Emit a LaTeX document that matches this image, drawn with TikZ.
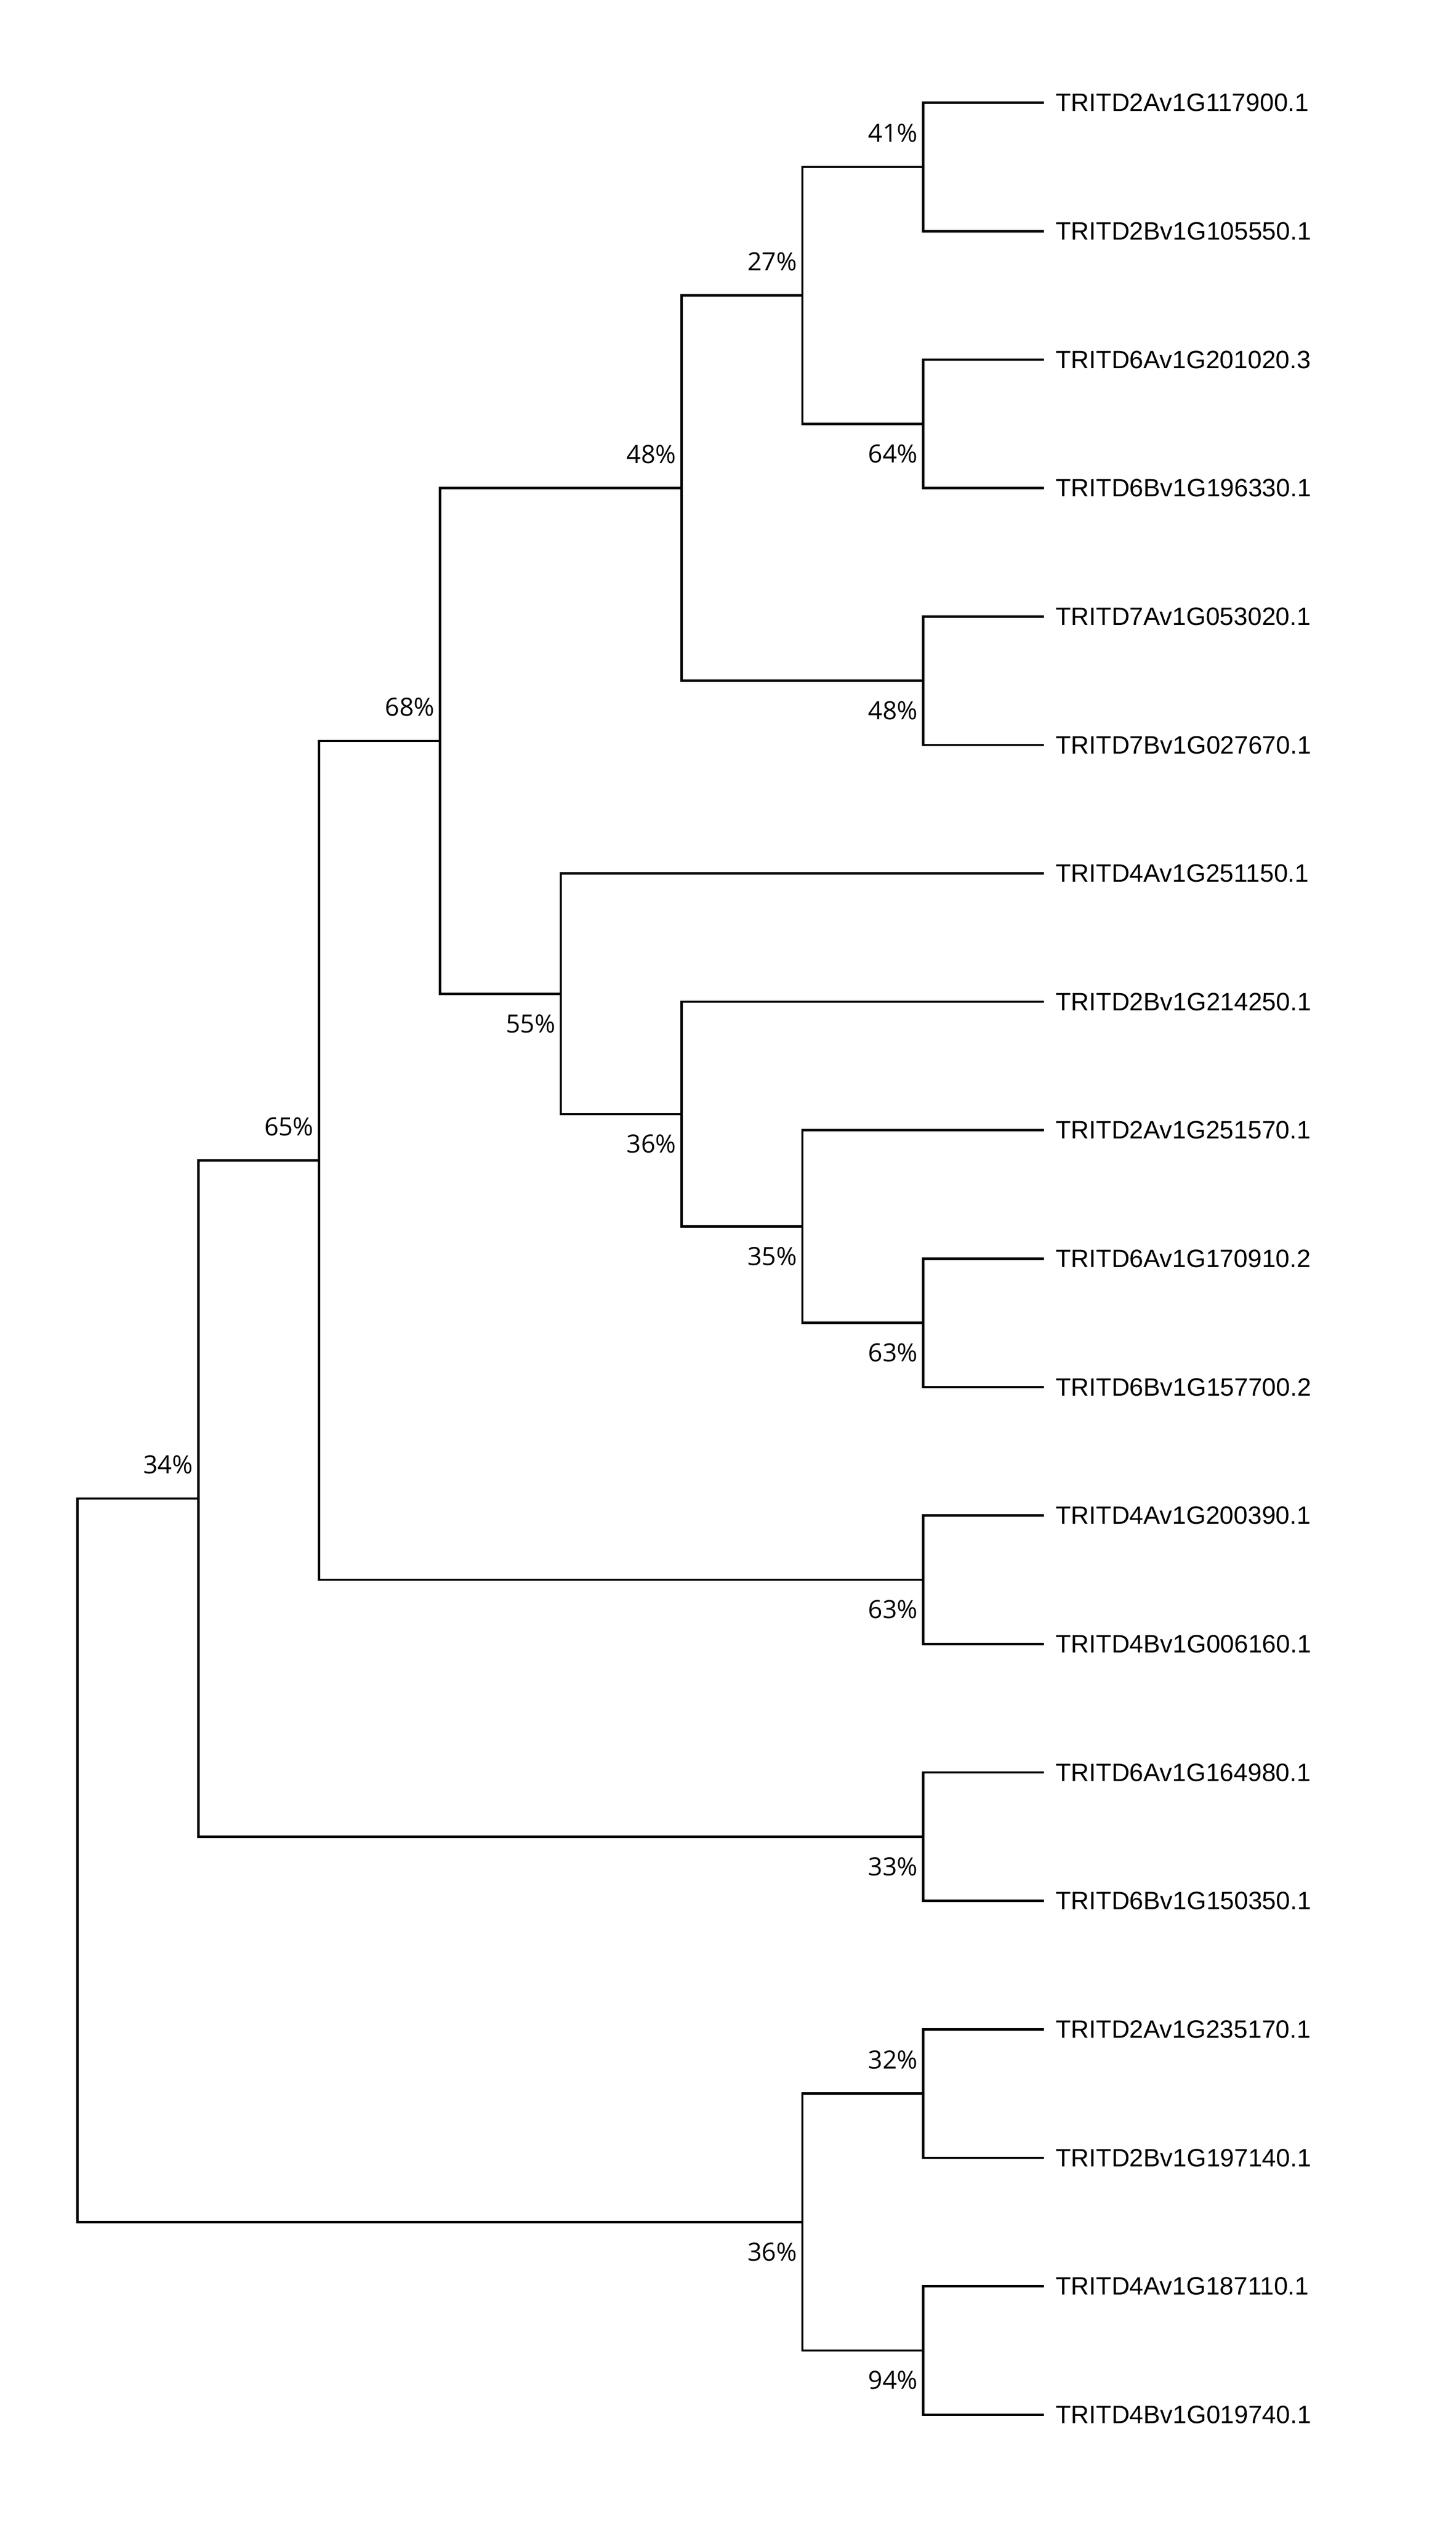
\documentclass[tikz,border=0pt]{standalone}
\usepackage{fontspec}
\setmainfont{Liberation Sans}
\newfontfamily\bsfont{Open Sans}
\usepackage{tikz}
\tikzstyle{branch} = [
    draw=black,
    line width=0.05cm,
    line join=miter
]
\tikzstyle{leaf} = [
    anchor=west,
    inner xsep=0.245cm,
    inner ysep=0pt,
    font=\fontsize{15.3pt}{18pt}\selectfont
]
\tikzstyle{bsabove} = [
    anchor=base east,
    inner sep=0pt,
    xshift=-0.11cm,
    yshift=0.53cm,
    font=\bsfont\fontsize{15.3pt}{18pt}\selectfont
]
\tikzstyle{bsbelow} = [
    bsabove,
    yshift=-1.36cm
]

\begin{document}
\begin{tikzpicture}[x=2.587cm, y=-2.75cm]
    \useasboundingbox[fill=white] (0,0) rectangle (12.049,19.636);
    \begin{scope}[shift={(0.6417,0.8)}]
        % leaves
        \foreach \gene [count=\i from 0] in {TRITD2Av1G117900.1, TRITD2Bv1G105550.1,
            TRITD6Av1G201020.3, TRITD6Bv1G196330.1, TRITD7Av1G053020.1, TRITD7Bv1G027670.1,
            TRITD4Av1G251150.1, TRITD2Bv1G214250.1, TRITD2Av1G251570.1, TRITD6Av1G170910.2,
            TRITD6Bv1G157700.2, TRITD4Av1G200390.1, TRITD4Bv1G006160.1, TRITD6Av1G164980.1,
            TRITD6Bv1G150350.1, TRITD2Av1G235170.1, TRITD2Bv1G197140.1, TRITD4Av1G187110.1,
            TRITD4Bv1G019740.1}
            \node[leaf] (l\i) at (8,\i) {\gene};

        % internal nodes
        \coordinate (c1) at (7,0.5);
        \coordinate (c2) at (7,2.5);
        \coordinate (c3) at (6,1.5);
        \coordinate (c4) at (7,4.5);
        \coordinate (c5) at (5,3);
        \coordinate (c6) at (7,9.5);
        \coordinate (c7) at (6,8.75);
        \coordinate (c8) at (5,7.875);
        \coordinate (c9) at (4,6.9375);
        \coordinate (c10) at (3,4.96875);
        \coordinate (c11) at (7,11.5);
        \coordinate (c12) at (2,8.234375);
        \coordinate (c13) at (7,13.5);
        \coordinate (c14) at (1,10.8671875);
        \coordinate (c15) at (7,15.5);
        \coordinate (c16) at (7,17.5);
        \coordinate (c17) at (6,16.5);
        \coordinate (root) at (0,13.68359375);

        % branches
        \draw[branch] (c1) |- (l0.west);
        \draw[branch] (c1) |- (l1.west);
        \draw[branch] (c2) |- (l2.west);
        \draw[branch] (c2) |- (l3.west);
        \draw[branch] (c3) |- (c1);
        \draw[branch] (c3) |- (c2);
        \draw[branch] (c4) |- (l4.west);
        \draw[branch] (c4) |- (l5.west);
        \draw[branch] (c5) |- (c3);
        \draw[branch] (c5) |- (c4);
        \draw[branch] (c6) |- (l9.west);
        \draw[branch] (c6) |- (l10.west);
        \draw[branch] (c7) |- (l8.west);
        \draw[branch] (c7) |- (c6);
        \draw[branch] (c8) |- (l7.west);
        \draw[branch] (c8) |- (c7);
        \draw[branch] (c9) |- (l6.west);
        \draw[branch] (c9) |- (c8);
        \draw[branch] (c10) |- (c5);
        \draw[branch] (c10) |- (c9);
        \draw[branch] (c11) |- (l11.west);
        \draw[branch] (c11) |- (l12.west);
        \draw[branch] (c12) |- (c10);
        \draw[branch] (c12) |- (c11);
        \draw[branch] (c13) |- (l13.west);
        \draw[branch] (c13) |- (l14.west);
        \draw[branch] (c14) |- (c12);
        \draw[branch] (c14) |- (c13);
        \draw[branch] (c15) |- (l15.west);
        \draw[branch] (c15) |- (l16.west);
        \draw[branch] (c16) |- (l17.west);
        \draw[branch] (c16) |- (l18.west);
        \draw[branch] (c17) |- (c15);
        \draw[branch] (c17) |- (c16);
        \draw[branch] (root) |- (c14);
        \draw[branch] (root) |- (c17);

        % bootstrap values
        \node[bsabove] (b1) at (c1) {41\%};
        \node[bsbelow] (b2) at (c2) {64\%};
        \node[bsabove] (b3) at (c3) {27\%};
        \node[bsbelow] (b4) at (c4) {48\%};
        \node[bsabove] (b5) at (c5) {48\%};
        \node[bsbelow] (b6) at (c6) {63\%};
        \node[bsbelow] (b7) at (c7) {35\%};
        \node[bsbelow] (b8) at (c8) {36\%};
        \node[bsbelow] (b9) at (c9) {55\%};
        \node[bsabove] (b10) at (c10) {68\%};
        \node[bsbelow] (b11) at (c11) {63\%};
        \node[bsabove] (b12) at (c12) {65\%};
        \node[bsbelow] (b13) at (c13) {33\%};
        \node[bsabove] (b14) at (c14) {34\%};
        \node[bsabove] (b15) at (c15) {32\%};
        \node[bsbelow] (b16) at (c16) {94\%};
        \node[bsbelow] (b17) at (c17) {36\%};
    \end{scope}
\end{tikzpicture}
\end{document}
